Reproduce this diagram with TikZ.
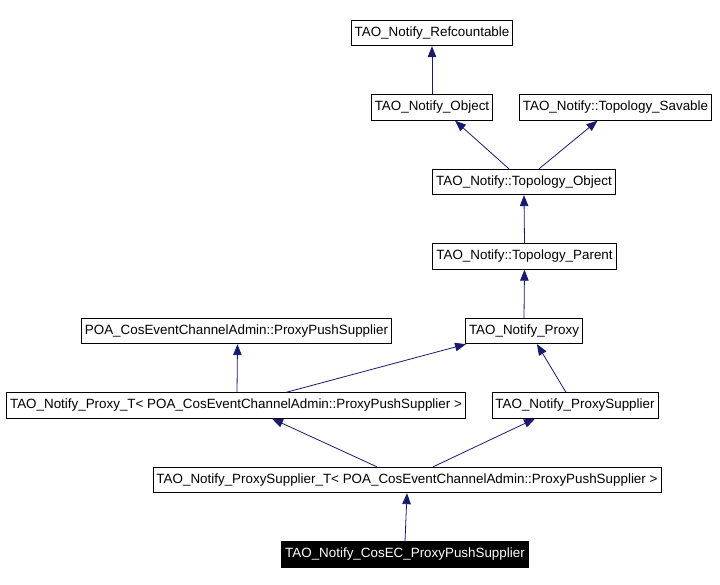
\documentclass[tikz,border=0pt]{standalone}
\usepackage{fontspec}
\setmainfont{Liberation Sans}
\usetikzlibrary{arrows.meta}
\definecolor{edgeblue}{RGB}{25,25,112}

\begin{document}
\begin{tikzpicture}[x=1pt,y=-1pt,
		cls/.style={draw=black,fill=white,line width=0.8pt,inner xsep=3.5pt,inner ysep=0pt,minimum height=25.5pt,font=\fontsize{13.4}{15}\selectfont},
		this/.style={cls,fill=black,text=white},
		inh/.style={draw=edgeblue,line width=0.8pt,-{Triangle[length=11pt,width=8.5pt]}}]
		\useasboundingbox (0,0) rectangle (720,584);
		% classes, top to bottom
		\node[cls] (refc) at (432,33) {TAO\_Notify\_Refcountable};
		\node[cls] (obj) at (432,107.5) {TAO\_Notify\_Object};
		\node[cls] (sav) at (615.5,107.5) {TAO\_Notify::Topology\_Savable};
		\node[cls] (topo) at (524,182) {TAO\_Notify::Topology\_Object};
		\node[cls] (parent) at (524.5,256.5) {TAO\_Notify::Topology\_Parent};
		\node[cls] (poa) at (236.5,331) {POA\_CosEventChannelAdmin::ProxyPushSupplier};
		\node[cls] (proxy) at (524,331) {TAO\_Notify\_Proxy};
		\node[cls] (proxyt) at (236,405.5) {TAO\_Notify\_Proxy\_T< POA\_CosEventChannelAdmin::ProxyPushSupplier >};
		\node[cls] (psup) at (575,405.5) {TAO\_Notify\_ProxySupplier};
		\node[cls] (psupt) at (407,480) {TAO\_Notify\_ProxySupplier\_T< POA\_CosEventChannelAdmin::ProxyPushSupplier >};
		\node[this] (cosec) at (405,554.5) {TAO\_Notify\_CosEC\_ProxyPushSupplier};
		% inheritance
		\draw[inh] (obj.north) -- (refc.south);
		\draw[inh] ([xshift=-15pt]topo.north) -- ([xshift=23pt]obj.south);
		\draw[inh] ([xshift=15pt]topo.north) -- ([xshift=-18pt]sav.south);
		\draw[inh] (parent.north) -- (topo.south);
		\draw[inh] (proxy.north) -- (parent.south);
		\draw[inh] ([xshift=1pt]proxyt.north) -- ([xshift=1pt]poa.south);
		\draw[inh] ([xshift=50pt]proxyt.north) -- ([xshift=-58pt]proxy.south);
		\draw[inh] ([xshift=-9pt]psup.north) -- ([xshift=13pt]proxy.south);
		\draw[inh] ([xshift=-30pt]psupt.north) -- ([xshift=36pt]proxyt.south);
		\draw[inh] ([xshift=26pt]psupt.north) -- ([xshift=-40pt]psup.south);
		\draw[inh] (cosec.north) -- (psupt.south);
\end{tikzpicture}
\end{document}
